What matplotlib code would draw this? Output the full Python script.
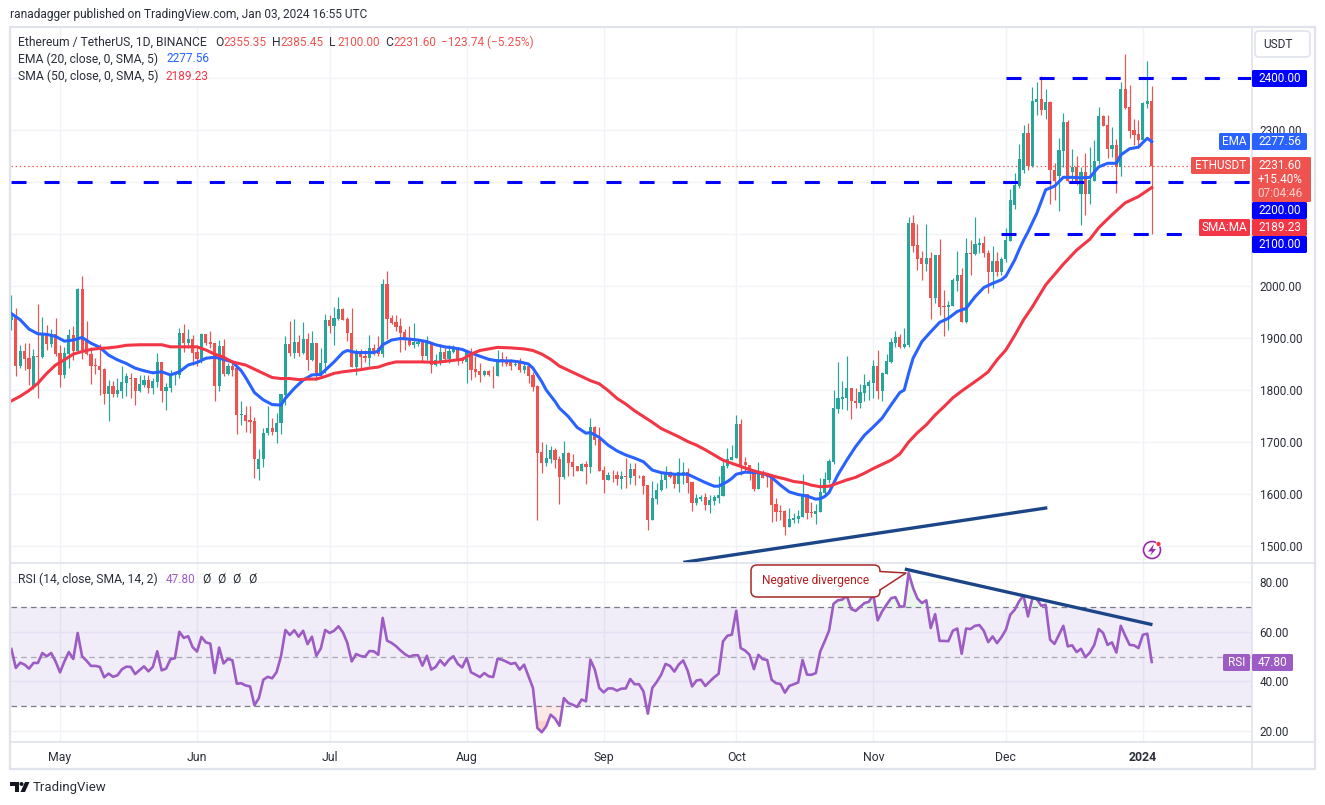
import matplotlib
matplotlib.use("Agg")
import matplotlib.pyplot as plt
from matplotlib.patches import Rectangle, FancyBboxPatch, Polygon, Circle
import numpy as np

plt.rcParams['font.family'] = ['Roboto', 'DejaVu Sans']
plt.rcParams['lines.scale_dashes'] = False

# daily candles, day 0 is May 1 2023, first candle is day -11
opens = [1935,1942,1846,1875,1862,1805,1866,1863,1909,1888,
         1908,1871,1829,1869,1906,1875,1994,1896,1870,1847,
         1846,1840,1792,1808,1792,1798,1814,1824,1823,1798,
         1810,1819,1804,1815,1854,1799,1804,1829,1829,1909,
         1890,1899,1873,1860,1907,1892,1890,1808,1885,1831,
         1846,1842,1751,1752,1742,1740,1649,1667,1717,1726,
         1720,1736,1790,1888,1872,1892,1872,1898,1858,1890,
         1827,1851,1935,1923,1937,1956,1937,1909,1845,1871,
         1866,1862,1880,1880,1870,2004,1938,1930,1923,1911,
         1898,1887,1889,1892,1865,1890,1849,1856,1873,1860,
         1873,1880,1862,1854,1873,1840,1836,1829,1836,1831,
         1827,1860,1856,1853,1848,1851,1838,1846,1829,1808,
         1681,1660,1667,1685,1668,1633,1678,1662,1654,1645,
         1658,1652,1728,1706,1646,1627,1637,1637,1629,1635,
         1631,1648,1637,1635,1617,1550,1590,1608,1626,1642,
         1636,1620,1636,1642,1623,1583,1591,1595,1579,1586,
         1592,1596,1654,1665,1669,1735,1661,1656,1646,1610,
         1643,1637,1635,1581,1566,1567,1537,1550,1551,1556,
         1600,1565,1561,1565,1601,1627,1661,1764,1783,1785,
         1804,1779,1775,1795,1808,1814,1846,1799,1831,1854,
         1891,1902,1883,1886,2122,2079,2053,2042,2053,1976,
         2060,1961,1960,1961,2010,2021,1931,2064,2061,2079,
         2083,2064,2026,2048,2026,2051,2087,2156,2192,2224,
         2294,2231,2354,2359,2338,2354,2224,2212,2260,2315,
         2220,2228,2177,2219,2177,2201,2240,2326,2310,2264,
         2271,2229,2379,2344,2300,2292,2281,2350,2355.35]
highs = [1983,1957,1887,1890,1890,1878,1965,1941,1925,1917,
         1938,1887,1882,1917,1923,1997,2019,1933,1883,1861,
         1888,1842,1819,1818,1824,1846,1832,1832,1824,1829,
         1829,1828,1824,1872,1854,1814,1838,1833,1919,1927,
         1917,1906,1887,1909,1907,1914,1890,1897,1898,1851,
         1858,1842,1779,1769,1769,1749,1686,1726,1769,1747,
         1756,1792,1903,1933,1937,1906,1931,1909,1913,1890,
         1880,1947,1944,1960,1978,1958,1941,1958,1878,1878,
         1877,1906,1888,1903,2013,2029,1944,1944,1939,1917,
         1924,1929,1896,1896,1904,1890,1869,1888,1883,1886,
         1886,1883,1862,1877,1880,1865,1851,1838,1838,1846,
         1877,1873,1865,1860,1853,1862,1853,1849,1835,1810,
         1700,1696,1692,1688,1674,1701,1681,1676,1654,1660,
         1664,1746,1731,1728,1654,1643,1647,1645,1645,1669,
         1659,1659,1637,1637,1618,1625,1621,1643,1654,1645,
         1638,1669,1662,1650,1624,1600,1598,1601,1598,1599,
         1635,1664,1688,1694,1752,1744,1672,1656,1647,1662,
         1647,1641,1637,1593,1579,1569,1574,1563,1569,1638,
         1600,1584,1580,1630,1643,1667,1800,1853,1818,1865,
         1804,1804,1812,1831,1819,1858,1876,1835,1869,1900,
         1914,1907,1920,2132,2137,2120,2068,2119,2065,2060,
         2090,1992,1971,2015,2067,2034,2093,2088,2132,2092,
         2096,2069,2076,2066,2055,2111,2187,2217,2274,2310,
         2314,2383,2392,2404,2378,2356,2236,2284,2332,2319,
         2263,2250,2229,2256,2268,2281,2345,2329,2329,2305,
         2282,2392,2446,2387,2322,2320,2354,2433,2385.45]
lows = [1915,1826,1842,1838,1810,1801,1785,1861,1877,1882,
        1866,1806,1824,1843,1858,1875,1860,1867,1812,1831,
        1790,1773,1740,1786,1786,1785,1788,1784,1771,1796,
        1806,1795,1792,1806,1777,1762,1796,1810,1824,1874,
        1881,1848,1846,1851,1887,1881,1779,1799,1827,1828,
        1827,1715,1733,1720,1717,1631,1626,1651,1713,1713,
        1699,1715,1772,1866,1862,1866,1869,1838,1856,1819,
        1827,1832,1910,1887,1935,1935,1894,1845,1828,1842,
        1854,1846,1867,1866,1864,1898,1926,1914,1874,1877,
        1885,1881,1885,1855,1858,1833,1847,1849,1854,1851,
        1872,1848,1852,1814,1820,1825,1816,1827,1826,1803,
        1827,1846,1846,1838,1846,1835,1833,1814,1799,1550,
        1641,1654,1659,1650,1581,1629,1635,1635,1644,1644,
        1620,1641,1694,1645,1602,1627,1624,1617,1610,1611,
        1620,1617,1630,1600,1531,1550,1581,1606,1611,1630,
        1611,1604,1620,1601,1568,1578,1587,1569,1564,1579,
        1583,1596,1650,1665,1669,1637,1643,1626,1606,1610,
        1631,1614,1547,1549,1550,1521,1536,1544,1545,1556,
        1551,1556,1542,1565,1599,1622,1658,1756,1763,1762,
        1745,1765,1765,1778,1781,1784,1782,1778,1831,1852,
        1883,1880,1880,1883,2066,2031,2012,2029,1937,1967,
        1944,1904,1915,1961,1991,1931,1929,2021,2059,2063,
        2055,1987,1997,2019,2021,2047,2087,2148,2188,2218,
        2223,2229,2329,2329,2321,2158,2165,2145,2229,2200,
        2200,2194,2117,2137,2157,2201,2235,2308,2247,2249,
        2179,2212,2340,2284,2271,2265,2281,2342,2100]
closes = [1947,1846,1875,1860,1840,1865,1864,1909,1888,1908,
          1869,1829,1872,1906,1875,1994,1877,1870,1846,1846,
          1838,1792,1808,1792,1800,1815,1826,1822,1798,1812,
          1819,1804,1817,1854,1799,1806,1831,1832,1909,1890,
          1899,1872,1860,1907,1891,1889,1808,1885,1831,1846,
          1838,1751,1753,1740,1739,1667,1667,1717,1726,1720,
          1736,1792,1888,1872,1892,1872,1898,1858,1890,1827,
          1852,1935,1923,1938,1956,1935,1909,1845,1871,1864,
          1862,1880,1875,1870,2004,1937,1929,1922,1910,1896,
          1887,1892,1892,1865,1890,1849,1857,1873,1860,1875,
          1880,1856,1855,1873,1838,1835,1829,1836,1829,1830,
          1860,1855,1850,1846,1850,1838,1846,1827,1806,1679,
          1660,1669,1685,1665,1633,1678,1659,1652,1645,1658,
          1652,1728,1704,1645,1627,1636,1636,1629,1635,1633,
          1648,1635,1636,1616,1550,1592,1608,1627,1642,1633,
          1620,1642,1643,1622,1583,1592,1594,1579,1588,1594,
          1599,1654,1667,1672,1735,1655,1655,1643,1610,1643,
          1631,1632,1579,1565,1565,1537,1551,1554,1557,1600,
          1564,1564,1567,1604,1629,1663,1765,1785,1786,1804,
          1778,1775,1796,1810,1816,1846,1799,1833,1856,1893,
          1902,1883,1888,2122,2077,2051,2042,2053,1976,2060,
          1960,1960,1963,2012,2021,1931,2064,2062,2081,2082,
          2063,2026,2048,2027,2051,2088,2165,2194,2244,2295,
          2231,2356,2359,2338,2354,2223,2202,2262,2315,2202,
          2229,2196,2219,2177,2203,2240,2326,2308,2264,2271,
          2229,2379,2343,2299,2290,2281,2352,2356,2231.6]

ema_days = [-11,-9,-7,-5,-3,-1,1,3,5,7,9,11,13,15,17,19,21,23,25,27,29,31,33,35,37,39,41,42,44,46,48,50,51,53,
            55,57,59,60,62,64,65,67,69,71,72,73,75,77,79,81,83,85,87,89,91,93,95,97,99,102,104,106,107,109,110,
            112,113,115,117,119,120,122,124,126,128,130,132,134,136,139,142,144,146,148,149,151,152,153,155,158,
            160,161,163,165,167,169,171,172,173,174,176,178,180,182,184,186,188,190,191,192,193,195,197,199,201,
            203,205,207,209,211,213,214,216,217,218,219,221,223,225,227,229,231,233,235,237,239,240,242,244,245,246,247]
ema_vals = [1947,1935,1917,1908,1907,1903,1894,1896,1901,1890,1882,1867,1858,1851,1842,1837,1833,1835,1829,1835,
            1848,1853,1861,1863,1859,1854,1837,1824,1795,1781,1772,1771,1784,1803,
            1819,1829,1830,1838,1854,1872,1876,1872,1872,1872,1875,1887,1896,1899,1898,1896,1893,1887,1883,1881,1878,
            1871,1865,1859,1856,1856,1854,1850,1842,1816,1800,
            1778,1765,1749,1728,1717,1718,1709,1694,1683,1675,1669,1662,1646,1641,1638,1638,1630,1622,1615,1615,
            1624,1630,1638,1642,1641,1637,1632,1617,1604,1599,1596,1590,1591,1595,1603,1637,1665,1691,1713,1729,
            1746,1771,1795,1800,1832,1861,1893,1912,1930,1938,1951,1957,1979,1997,2005,2012,2019,2050,2070,2088,
            2104,2140,2185,2192,2209,2209,2208,2209,2229,2236,2236,2252,2264,2267,2276,2284,2277.56]

sma_days = [-11,-9,-7,-5,-3,-1,1,3,5,7,9,11,13,15,18,21,23,25,27,31,33,35,37,39,40,42,44,46,48,50,52,54,56,58,60,62,
            64,66,68,70,72,74,76,78,82,85,88,91,93,95,97,99,102,105,107,109,111,113,115,118,120,122,124,126,128,130,
            132,134,136,138,140,142,144,146,148,150,152,154,156,158,160,162,164,166,168,170,172,174,176,178,180,182,
            184,186,188,190,192,194,196,198,200,202,204,206,208,210,212,214,216,218,220,223,227,230,233,235,238,241,244,247]
sma_vals = [1779,1788,1799,1813,1832,1848,1858,1869,1874,1878,1880,1881,1883,1886,1887,1887,1887,1883,1883,1883,
            1877,1869,1863,1854,1852,1848,1840,1832,1824,1822,1822,1820,1821,1821,1826,1832,
            1835,1837,1839,1842,1844,1850,1854,1854,1854,1853,1856,1859,1869,1876,1879,1882,1881,1879,1876,1869,1859,
            1846,1838,1826,1818,1812,1799,1784,1773,1760,1749,1738,1726,1718,1710,1701,1694,1685,1675,1665,1659,1653,
            1647,1642,1638,1633,1629,1624,1622,1617,1614,1615,1621,1627,1632,1640,1649,1657,1665,1677,1700,1718,1733,
            1752,1768,1785,1798,1810,1822,1835,1858,1877,1905,1935,1960,2002,2042,2069,2090,2112,2137,2160,2172,2189.23]

rsi_vals = [53.0,45.4,47.5,46.7,45.1,47.4,47.4,51.4,50.1,51.4,48.0,43.6,48.0,51.8,49.0,59.5,50.1,48.3,46.2,46.2,
            45.8,41.6,43.1,41.8,42.4,44.8,45.9,45.8,42.9,44.5,46.0,44.0,45.8,52.1,44.4,45.1,48.9,49.3,60.0,57.5,
            58.2,53.8,52.0,57.9,55.7,55.2,43.3,53.6,47.2,49.0,48.5,39.0,39.2,38.3,37.9,30.3,33.2,40.6,41.8,41.2,
            43.7,50.1,60.7,58.7,60.6,58.0,60.4,55.0,58.0,50.3,53.2,60.7,59.5,60.4,62.2,59.8,55.5,48.0,51.0,50.2,
            49.9,52.2,52.1,50.7,65.6,56.4,55.5,54.2,52.5,51.0,49.9,50.5,50.5,46.3,50.3,44.7,45.8,48.5,46.4,48.7,
            50.1,47.0,45.6,49.4,43.6,42.7,41.7,43.3,42.0,41.7,49.1,48.7,47.9,47.0,47.4,44.7,46.7,42.0,37.3,21.1,
            19.4,21.8,26.5,24.9,22.0,33.2,31.2,30.5,29.6,32.6,31.9,48.7,44.7,37.3,35.5,37.1,37.1,36.2,37.0,37.1,
            40.9,38.8,38.8,35.9,26.9,37.3,39.7,
            42.6,47.0,46.2,43.9,46.8,48.4,44.3,37.9,40.3,40.6,38.1,39.9,41.6,43.0,56.1,58.4,58.8,68.5,53.4,52.4,
            50.7,44.9,50.7,48.9,48.6,40.6,39.2,38.9,35.4,38.1,38.8,39.5,48.6,42.7,42.6,43.3,52.0,56.1,60.5,71.3,
            72.7,73.0,74.6,69.2,68.4,70.0,71.6,72.1,75.0,64.6,68.2,70.9,73.5,74.0,70.2,70.2,83.8,77.7,73.4,71.6,
            72.7,61.5,67.1,56.3,56.3,56.2,60.4,61.3,51.1,61.3,61.1,62.4,62.7,60.4,55.8,58.1,55.4,57.8,60.8,66.9,
            68.9,72.3,74.6,66.2,73.6,73.2,70.5,70.9,56.8,55.1,58.8,62.4,54.1,54.5,51.8,53.1,49.7,51.6,54.7,61.1,
            59.5,54.7,55.7,51.6,62.4,58.4,54.7,54.5,53.4,58.8,59.2,47.8]

month_days = [0, 31, 61, 92, 123, 153, 184, 214, 245]
month_labels = ['May', 'Jun', 'Jul', 'Aug', 'Sep', 'Oct', 'Nov', 'Dec', '2024']
price_ticks = [1500, 1600, 1700, 1800, 1900, 2000, 2100, 2200, 2300, 2400]
tagged_levels = [2100, 2200, 2400]
rsi_ticks = [20, 40, 60, 80]

n = len(closes)
days = np.arange(-11, n - 11)
opens, highs, lows, closes = map(np.array, (opens, highs, lows, closes))
rsi_vals = np.array(rsi_vals)

GREEN = '#26a69a'
RED = '#ef5350'
BLUE = '#2962ff'
MA_RED = '#f23645'
PURPLE = '#9c5cc4'
NAVY = '#1c4587'
TXT = '#2a2e39'
GRID = '#f1f3f8'
EDGE = '#e0e3eb'
W, H = 1325, 805
LEFT, RIGHT = 11, 1252

fig = plt.figure(figsize=(W / 100, H / 100), dpi=100)


def panel(top, bottom):
    return fig.add_axes([LEFT / W, 1 - bottom / H, (RIGHT - LEFT) / W, (bottom - top) / H])


ax = panel(27, 563)
ax2 = panel(563, 742)
xlim = ((LEFT - 60) / 4.42, (RIGHT - 60) / 4.42)

# candles
is_up = closes >= opens
colors = np.where(is_up, GREEN, RED)
ax.vlines(days, lows, highs, colors=colors, lw=0.85, zorder=3)
ax.bar(days, np.maximum(np.abs(closes - opens), 1.5), bottom=np.minimum(opens, closes),
       width=0.72, color=colors, lw=0, zorder=3)

ax.plot(ema_days, ema_vals, color=BLUE, lw=2.2, zorder=4, solid_joinstyle='round')
ax.plot(sma_days, sma_vals, color=MA_RED, lw=2.2, zorder=4, solid_joinstyle='round')

# levels drawn by the author
ax.plot([xlim[0], xlim[1]], [2200, 2200], color='#0000ff', lw=2.2, ls=(0, (10.8, 13)), zorder=5,
        dash_capstyle='butt')
ax.plot([214.0, xlim[1]], [2400, 2400], color='#0000ff', lw=2.2, ls=(0, (10.8, 13)), zorder=5,
        dash_capstyle='butt')
ax.plot([213.0, xlim[1]], [2100, 2100], color='#0000ff', lw=2.2, ls=(0, (10.8, 13)), zorder=5,
        dash_capstyle='butt')
ax.axhline(2231.6, color=RED, lw=0.9, ls=(0, (1, 2)), zorder=2)
ax.plot([141.4, 223], [1469, 1573], color=NAVY, lw=2.4, zorder=5)

ax.set_xlim(xlim)
ax.set_ylim(2550 - 563 / 0.52, 2550 - 27 / 0.52)
ax.set_yticks(price_ticks)
ax.set_yticklabels(['' if t in tagged_levels else f'{t:.2f}' for t in price_ticks])
ax.set_xticks(month_days)
ax.tick_params(axis='x', length=0, labelbottom=False)
ax.yaxis.tick_right()
ax.tick_params(axis='y', length=0, pad=5.5, labelsize=8.5, labelcolor=TXT)
ax.grid(True, color=GRID, lw=1)
ax.set_axisbelow(True)

# rsi panel
ax2.axhspan(30, 70, color='#7e57c2', alpha=0.11, lw=0, zorder=1)
for lev, col in zip([70, 50, 30], ['#787b86', '#a8abb4', '#787b86']):
    ax2.axhline(lev, color=col, lw=0.9, ls=(0, (4, 3)), zorder=2)
ax2.fill_between(days, rsi_vals, 30, where=rsi_vals < 30, interpolate=True, color='#f7a8a0', alpha=0.25, lw=0, zorder=2)
ax2.fill_between(days, rsi_vals, 24, where=rsi_vals < 24, interpolate=True, color='#f7a8a0', alpha=0.35, lw=0, zorder=2)
ax2.fill_between(days, rsi_vals, 70, where=rsi_vals > 70, interpolate=True, color='#b7e4c0', alpha=0.3, lw=0, zorder=2)
ax2.plot(days, rsi_vals, color=PURPLE, lw=1.9, zorder=4)
ax2.plot([191.5, 246.8], [85.2, 63.0], color=NAVY, lw=2.4, zorder=5)
ax2.set_xlim(xlim)
ax2.set_ylim(30 - 36 / 2.475, 70 + 44 / 2.475)
ax2.set_yticks(rsi_ticks)
ax2.set_yticklabels([f'{t:.2f}' for t in rsi_ticks])
ax2.set_xticks(month_days)
ax2.set_xticklabels(month_labels)
ax2.yaxis.tick_right()
ax2.tick_params(axis='y', length=0, pad=5.5, labelsize=8.5, labelcolor=TXT)
ax2.tick_params(axis='x', length=0, pad=6.3, labelsize=8.8, labelcolor=TXT)
ax2.get_xticklabels()[-1].set_fontweight('bold')
ax2.grid(True, color=GRID, lw=1)
ax2.set_axisbelow(True)

for a in (ax, ax2):
    for s in a.spines.values():
        s.set_visible(False)

# overlay in pixel coordinates for frame, tags and legend texts
ov = fig.add_axes([0, 0, 1, 1], zorder=10)
ov.set_xlim(0, W)
ov.set_ylim(H, 0)
ov.axis('off')
ov.patch.set_alpha(0)

ov.add_patch(Rectangle((10, 27), 1305, 742, fill=False, ec=EDGE, lw=1.6))
ov.plot([10, 1315], [563, 563], color=EDGE, lw=1.2)
ov.plot([10, 1315], [742, 742], color=EDGE, lw=1.2)
ov.plot([1252, 1252], [27, 769], color=EDGE, lw=1.2)


def tag(x0, x1, y0, y1, color, label, size=8.5, tcolor='white'):
    ov.add_patch(FancyBboxPatch((x0, y0), x1 - x0, y1 - y0, boxstyle='round,pad=0,rounding_size=1.5',
                                fc=color, ec='none', zorder=3))
    if label:
        ov.text((x0 + x1) / 2, (y0 + y1) / 2 + 0.3, label, color=tcolor, fontsize=size,
                ha='center', va='center', zorder=4)


tag(1252, 1307, 70, 87, '#0000ff', '2400.00')
tag(1219, 1250, 133, 150, BLUE, 'EMA')
tag(1252, 1307, 133, 150, BLUE, '2277.56')
tag(1191, 1250, 157, 174, RED, 'ETHUSDT')
tag(1252, 1311, 157, 202, RED, '')
ov.text(1280, 165.5, '2231.60', color='white', fontsize=8.5, ha='center', va='center', zorder=4)
ov.text(1280, 179.5, '+15.40%', color='white', fontsize=8.5, ha='center', va='center', zorder=4)
ov.text(1280, 193.5, '07:04:46', color='#fbd0ce', fontsize=8.5, ha='center', va='center', zorder=4)
tag(1252, 1307, 202, 219, '#0000ff', '2200.00')
tag(1199, 1250, 219, 236, MA_RED, 'SMA:MA')
tag(1252, 1307, 219, 236, MA_RED, '2189.23')
tag(1252, 1307, 236, 253, '#0000ff', '2100.00')
tag(1223, 1250, 654, 671, PURPLE, 'RSI')
tag(1252, 1293, 654, 671, PURPLE, '47.80')

ov.add_patch(FancyBboxPatch((1255, 31), 55, 26, boxstyle='round,pad=0,rounding_size=4', fc='white', ec=EDGE, lw=1.2))
ov.text(1278, 44, 'USDT', color=TXT, fontsize=8.6, ha='center', va='center')

# header and legend texts
ov.text(10, 14.5, 'ranadagger published on TradingView.com, Jan 03, 2024 16:55 UTC', color=TXT, fontsize=8.55, va='center')
ov.text(18, 42, 'Ethereum / TetherUS, 1D, BINANCE', color=TXT, fontsize=8.7, va='center')
for x, t, v in [(215, 'O', '2355.35'), (272, 'H', '2385.45'), (329, 'L', '2100.00'), (385, 'C', '2231.60')]:
    ov.text(x, 42, t, color=TXT, fontsize=8.7, va='center')
    ov.text(x + 8, 42, v, color=RED, fontsize=8.5, va='center')
ov.text(441, 42, '\u2212123.74 (\u22125.25%)', color=RED, fontsize=8.5, va='center')
ov.text(18, 59, 'EMA (20, close, 0, SMA, 5)', color=TXT, fontsize=8.7, va='center')
ov.text(166, 59, '2277.56', color=BLUE, fontsize=8.5, va='center')
ov.text(18, 76, 'SMA (50, close, 0, SMA, 5)', color=TXT, fontsize=8.7, va='center')
ov.text(165, 76, '2189.23', color=MA_RED, fontsize=8.5, va='center')
ov.text(18, 579, 'RSI (14, close, SMA, 14, 2)', color=TXT, fontsize=8.7, va='center')
ov.text(166, 579, '47.80', color=PURPLE, fontsize=8.5, va='center')
for x in (206, 221, 236, 252):
    ov.text(x, 579, '\u00d8', color=TXT, fontsize=8.7, va='center', ha='center')

# callout
ov.add_patch(FancyBboxPatch((751, 565), 129, 32, boxstyle='round,pad=0,rounding_size=6', fc='white', ec='#a52a2a', lw=1.1))
ov.add_patch(Polygon([(879, 571), (906, 573), (879, 590)], closed=True, fc='white', ec='none', zorder=3))
ov.plot([880, 906, 880], [571.5, 573, 590], color='#a52a2a', lw=1.1, zorder=4)
ov.text(815.5, 580, 'Negative divergence', color='#b71c1c', fontsize=8.6, ha='center', va='center', zorder=4)

# bolt icon
ov.add_patch(Circle((1152, 550), 8.5, fc='white', ec='#9c27b0', lw=1.2))
ov.add_patch(Polygon([(1154, 544), (1148, 551.5), (1152, 551.5), (1150, 556), (1156, 549), (1152.5, 549)],
                     closed=True, fc='#9c27b0', ec='none'))
ov.add_patch(Circle((1158.5, 544), 2.5, fc='#f23645', ec='white', lw=0.5))

# logo
ov.add_patch(Polygon([(10, 782), (19, 782), (19, 792), (15, 792), (15, 786), (10, 786)], closed=True, fc='#131722', ec='none'))
ov.add_patch(Circle((21.5, 784), 2, fc='#131722', ec='none'))
ov.add_patch(Polygon([(25, 782), (29.5, 782), (25, 792), (20.5, 792)], closed=True, fc='#131722', ec='none'))
ov.text(33, 787.5, 'TradingView', color='#2a2e39', fontsize=9.5, va='center')

fig.savefig('out.png', dpi=100)
